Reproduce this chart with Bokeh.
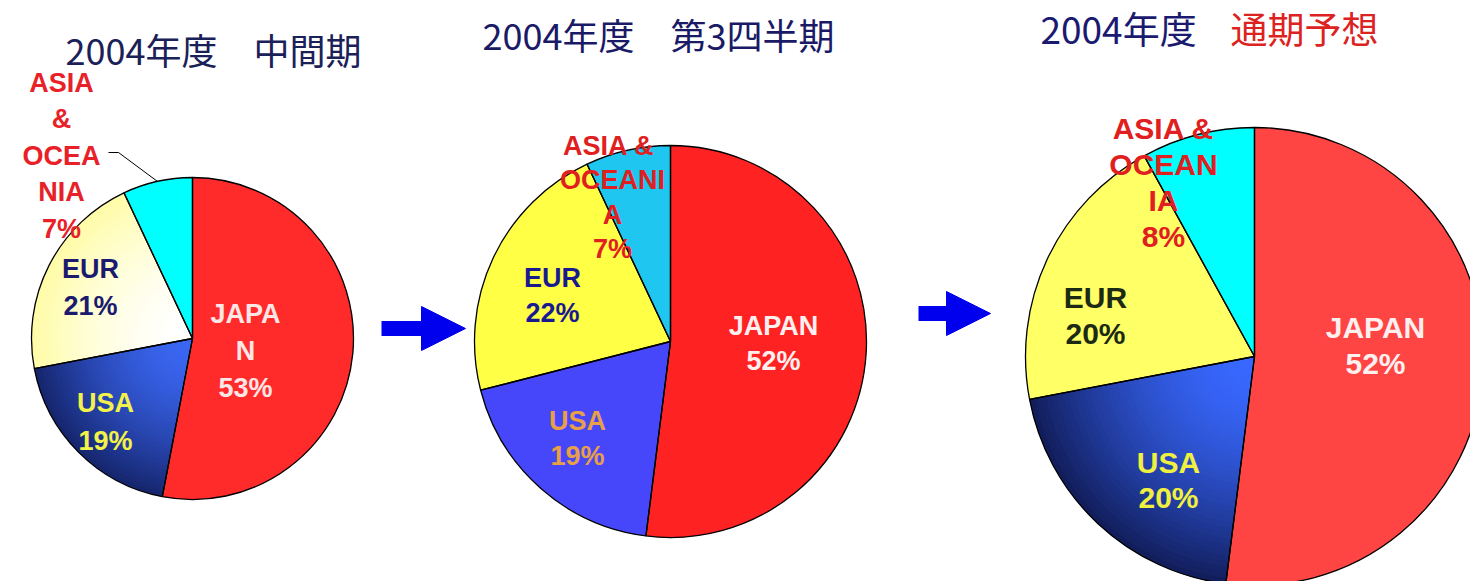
import numpy as np
from bokeh.plotting import figure
from bokeh.models import Range1d, ColumnDataSource, Arrow, NormalHead
from bokeh.core.properties import value
from bokeh.embed import file_html
from bokeh.resources import INLINE

# ---------------- data ----------------
regions = ["JAPAN", "USA", "EUR", "ASIA & OCEANIA"]
share_interim = [53, 19, 21, 7]      # 2004年度 中間期
share_q3 = [52, 19, 22, 7]           # 2004年度 第3四半期
share_forecast = [52, 20, 20, 8]     # 2004年度 通期予想

title_interim = "2004年度　中間期"
title_q3 = "2004年度　第3四半期"
title_forecast_a = "2004年度"
title_forecast_b = "通期予想"

# wrapped label text (as printed in the original)
lines_interim = [["JAPA", "N"], ["USA"], ["EUR"], ["ASIA", "&", "OCEA", "NIA"]]
lines_q3 = [["JAPAN"], ["USA"], ["EUR"], ["ASIA  &", "OCEANI", "A"]]
lines_forecast = [["JAPAN"], ["USA"], ["EUR"], ["ASIA &", "OCEAN", "IA"]]

# ---------------- layout / style ----------------
W, H = 1470, 581
def Y(iy):
    return H - iy

pies = [
    dict(shares=share_interim, lines=lines_interim, cx=192, cy=338, r=161,
         colors=["#FF2A2A", "#2B4BC2", "#FFFFDC", "#00FFFF"],
         grad={1: ("#3A66F2", "#16266E"), 2: ("#FFFFFF", "#FFFCA8")},
         tcolors=["#FFE6E6", "#F2F24A", "#1A1A6E", "#E82028"],
         anchors=[(245, 313, 37), (105, 402, 38), (90, 268, 37), (61, 82, 36.5)],
         fs=27),
    dict(shares=share_q3, lines=lines_q3, cx=670, cy=341, r=196,
         colors=["#FF2222", "#4646FA", "#FFFF46", "#1EC6F0"],
         grad={},
         tcolors=["#FFF0F0", "#E8A048", "#1A1A90", "#E02020"],
         anchors=[(773, 325, 35), (577, 420, 35), (552, 277, 35), (612, 145, 34.5)],
         fs=27),
    dict(shares=share_forecast, lines=lines_forecast, cx=1254, cy=356, r=229,
         colors=["#FF4444", "#2B4FCC", "#FFFF66", "#00FFFF"],
         grad={1: ("#3868FF", "#121E5C")},
         tcolors=["#FFF0F0", "#F0F040", "#1C2A14", "#E02020"],
         anchors=[(1375, 327, 36), (1168, 462, 35), (1095, 297, 36), (1163, 128, 36)],
         fs=30),
]

def hex2rgb(h):
    return np.array([int(h[i:i + 2], 16) for i in (1, 3, 5)], dtype=float)

def rgb2hex(c):
    return "#%02X%02X%02X" % tuple(int(round(v)) for v in c)

p = figure(width=W, height=H, x_range=Range1d(0, W), y_range=Range1d(0, H),
           output_backend="svg", toolbar_location=None, x_axis_type=None,
           y_axis_type=None, min_border=0, outline_line_color=None,
           background_fill_color="white", border_fill_color="white")
p.grid.visible = False

label_font = value("Liberation Sans")
NB = 40
for pie in pies:
    s = np.array(pie["shares"], dtype=float)
    frac = s / s.sum()
    cum = np.concatenate([[0], np.cumsum(frac)])
    # clockwise from 12 o'clock
    ang_hi = np.pi / 2 - cum[:-1] * 2 * np.pi
    ang_lo = np.pi / 2 - cum[1:] * 2 * np.pi
    src = ColumnDataSource(dict(start=ang_lo, end=ang_hi, color=pie["colors"]))
    p.wedge(x=pie["cx"], y=Y(pie["cy"]), radius=pie["r"], start_angle="start",
            end_angle="end", fill_color="color", line_color=None, source=src)
    # radial shading for some slices
    for i, (cin, cout) in pie["grad"].items():
        a, b = hex2rgb(cin), hex2rgb(cout)
        radii = pie["r"] * np.linspace(1, 0.05, NB)
        t = np.linspace(1, 0, NB) ** 1.6
        cols = [rgb2hex(a + (b - a) * tt) for tt in t]
        p.wedge(x=pie["cx"], y=Y(pie["cy"]), radius=radii,
                start_angle=ang_lo[i], end_angle=ang_hi[i],
                fill_color=cols, line_color=None)
    p.wedge(x=pie["cx"], y=Y(pie["cy"]), radius=pie["r"], start_angle="start",
            end_angle="end", fill_color=None, line_color="black",
            line_width=1.3, source=src)

    xs, ys, txt, cols = [], [], [], []
    for i, (name_lines, val) in enumerate(zip(pie["lines"], pie["shares"])):
        ax, ay, step = pie["anchors"][i]
        all_lines = name_lines + [f"{val}%"]
        for k, tx in enumerate(all_lines):
            xs.append(ax)
            ys.append(Y(ay + k * step))
            txt.append(tx)
            cols.append(pie["tcolors"][i])
    p.text(x=xs, y=ys, text=txt, text_color=cols, text_font=label_font,
           text_font_style="bold", text_font_size=f"{pie['fs']}px",
           text_align="center", text_baseline="middle")

# leader line for the first pie's ASIA & OCEANIA label
pie0 = pies[0]
s0 = np.array(pie0["shares"], dtype=float)
c0 = np.cumsum(s0) / s0.sum()
mid = np.pi / 2 - (c0[2] + c0[3]) / 2 * 2 * np.pi
ex = pie0["cx"] + pie0["r"] * np.cos(mid)
ey = Y(pie0["cy"]) + pie0["r"] * np.sin(mid)
p.line(x=[108, 118, ex], y=[Y(152), Y(152), ey], line_color="black", line_width=1)

# titles
title_font = value("Noto Sans CJK JP")
p.text(x=[65], y=[Y(48)], text=[title_interim], text_color="#1A2058",
       text_font=title_font, text_font_size="36px", text_align="left",
       text_baseline="middle")
p.text(x=[482], y=[Y(33)], text=[title_q3], text_color="#1A1A66",
       text_font=title_font, text_font_size="36px", text_align="left",
       text_baseline="middle")
p.text(x=[1040], y=[Y(27)], text=[title_forecast_a], text_color="#1A1A70",
       text_font=title_font, text_font_size="37px", text_align="left",
       text_baseline="middle")
p.text(x=[1230], y=[Y(27)], text=[title_forecast_b], text_color="#DD2222",
       text_font=title_font, text_font_size="37px", text_align="left",
       text_baseline="middle")

# arrows between pies
for (x0, x1, yy) in [(381, 465, 328), (918, 990, 313)]:
    p.add_layout(Arrow(x_start=x0, y_start=Y(yy), x_end=x1, y_end=Y(yy),
                       line_color="#0000EE", line_width=15,
                       end=NormalHead(size=44, fill_color="#0000EE",
                                      line_color="#0000EE", line_width=1)))

open("out.html", "w").write(file_html(p, INLINE))
